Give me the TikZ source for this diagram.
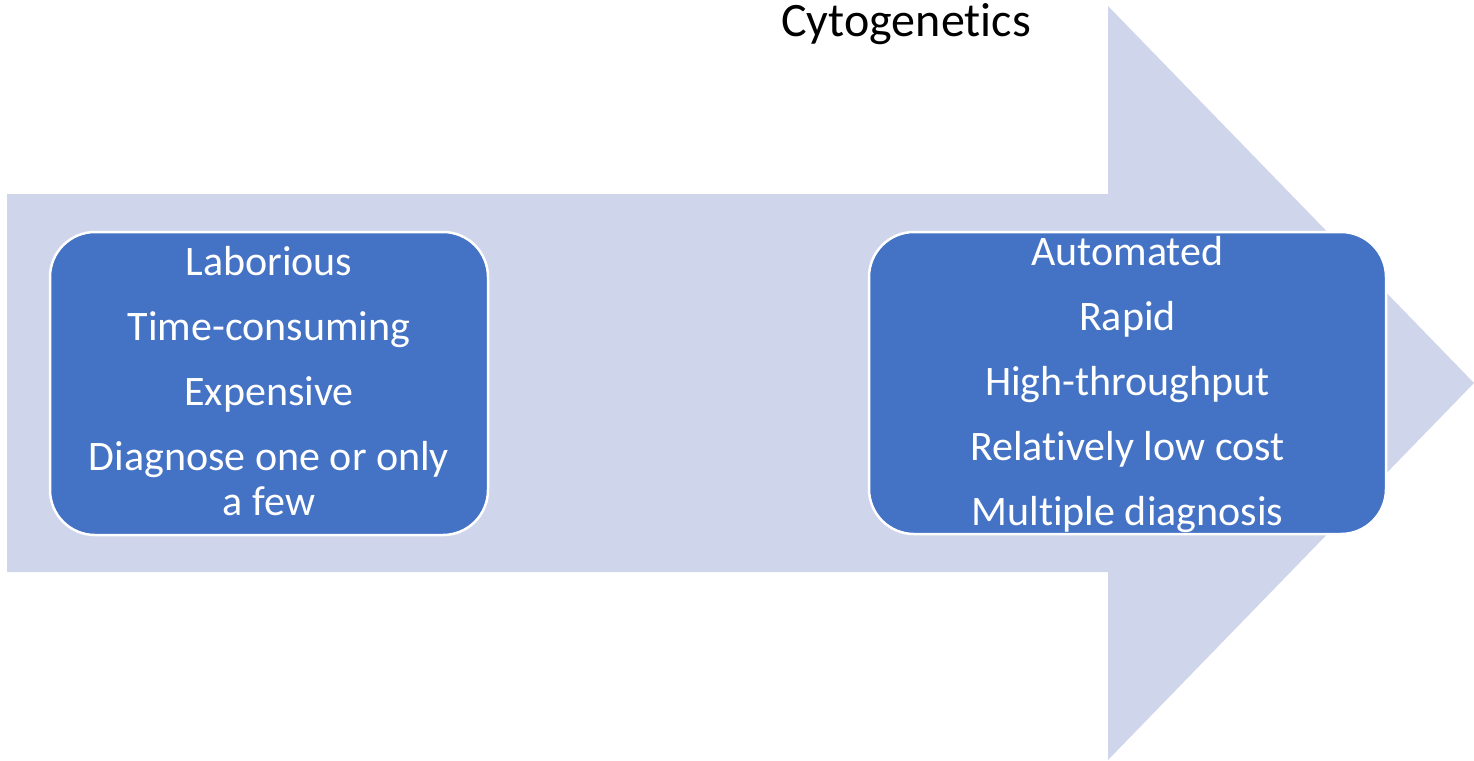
\documentclass[tikz,border=0pt]{standalone}
\usepackage{fontspec}
\setmainfont{Carlito}[Ligatures=NoCommon]
\definecolor{arrowfill}{HTML}{CFD5EA}
\definecolor{boxfill}{HTML}{4472C4}
\tikzset{
  stagebox/.style={draw=white, line width=2.5pt, fill=boxfill, rounded corners=45pt, inner sep=0pt, outer sep=0pt},
  stagetext/.style={text=white, align=center, inner sep=0pt, font=\fontsize{42}{45}\selectfont},
}
\begin{document}
\begin{tikzpicture}[x=1pt,y=-1pt]
\useasboundingbox (0,0) rectangle (1474,760);
\fill[arrowfill] (7,194) -- (1108,194) -- (1108,6) -- (1474,383) -- (1108,760) -- (1108,572) -- (7,572) -- cycle;
\node[font=\fontsize{48}{56}\selectfont, text=black, inner sep=0pt, anchor=base] (title) at (906,37) {Cytogenetics};
\node[stagebox, minimum width=438pt, minimum height=303pt] (lbox) at (269,383.5) {};
\node[stagebox, minimum width=517pt, minimum height=302pt] (rbox) at (1127.5,383) {};
\node[stagetext] (ltext) at ([yshift=2pt]lbox.center) {Laborious\\[20pt]Time-consuming\\[20pt]Expensive\\[20pt]Diagnose one or only\\a few};
\node[stagetext] (rtext) at ([yshift=-2pt]rbox.center) {Automated\\[20pt]Rapid\\[20pt]High-throughput\\[20pt]Relatively low cost\\[20pt]Multiple diagnosis};
\end{tikzpicture}
\end{document}
